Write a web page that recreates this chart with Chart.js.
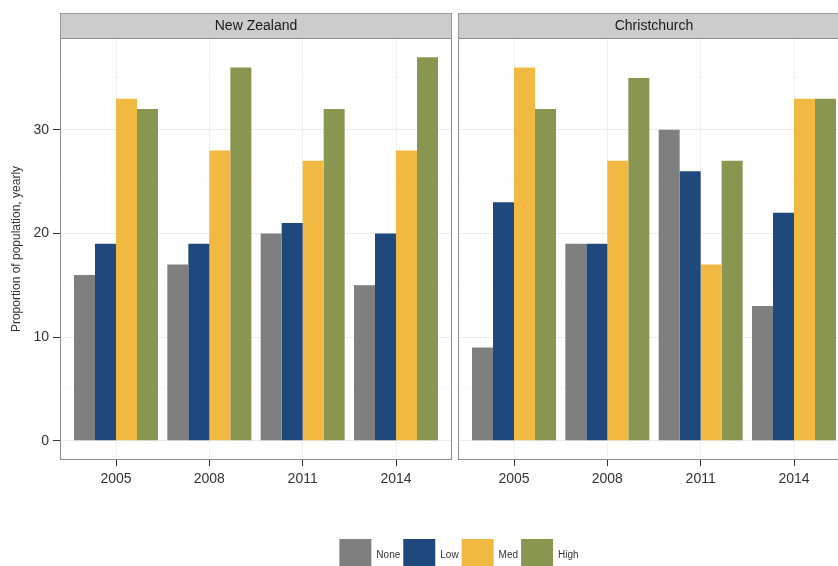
<!DOCTYPE html>
<html>
<head>
<meta charset="utf-8">
<script src="https://cdn.jsdelivr.net/npm/chart.js@4.4.1/dist/chart.umd.min.js"></script>
<style>
  html, body { margin: 0; padding: 0; background: #fff; width: 838px; height: 566px; overflow: hidden; }
  #nzWrap { position: absolute; left: 0; top: 0; }
  #chWrap { position: absolute; left: 0; top: 0; }
</style>
</head>
<body>
<div id="nzWrap"><canvas id="nz" width="455" height="500"></canvas></div>
<div id="chWrap"><canvas id="ch" width="858" height="581"></canvas></div>
<script>
/* ---- data ---- */
const years  = ['2005', '2008', '2011', '2014'];
const levels = ['None', 'Low', 'Med', 'High'];
const colors = ['#7f7f7f', '#1f497d', '#f1b942', '#88964f'];

const nzNone = [16, 17, 20, 15];
const nzLow  = [19, 19, 21, 20];
const nzMed  = [33, 28, 27, 28];
const nzHigh = [32, 36, 32, 37];

const chNone = [9, 19, 30, 13];
const chLow  = [23, 19, 26, 22];
const chMed  = [36, 27, 17, 33];
const chHigh = [32, 35, 27, 33];

const yTicks = [0, 5, 10, 15, 20, 25, 30, 35];
const yMin = -1.85, yMax = 38.85;

Chart.defaults.font.family = 'Arial, "Liberation Sans", sans-serif';
Chart.defaults.color = '#333';

// panel border + facet strip, drawn around the chart area
const panelPlugin = {
  id: 'panel',
  afterDraw(chart, args, opts) {
    const { ctx, chartArea: a } = chart;
    const stripTop = 13;
    ctx.save();
    ctx.fillStyle = '#cccccc';
    ctx.fillRect(a.left, stripTop, a.width, a.top - stripTop);
    ctx.strokeStyle = '#999999';
    ctx.lineWidth = 1;
    ctx.strokeRect(a.left + 0.5, stripTop + 0.5, a.width - 1, a.top - stripTop);
    ctx.strokeStyle = '#8c8c8c';
    ctx.strokeRect(a.left + 0.5, a.top + 0.5, a.width - 1, a.height - 1);
    ctx.fillStyle = '#1a1a1a';
    ctx.font = '14px Arial, "Liberation Sans", sans-serif';
    ctx.textAlign = 'center';
    ctx.textBaseline = 'middle';
    ctx.fillText(opts.title, (a.left + a.right) / 2, (stripTop + a.top) / 2 + 1);
    ctx.restore();
  }
};

// first = left facet (carries the y axis); the right facet carries the legend
function makePanel(id, title, series, first) {
  return new Chart(document.getElementById(id), {
    type: 'bar',
    data: {
      datasets: levels.map((lv, k) => ({
        label: lv,
        data: series[k].map((v, i) => ({ x: i + 1, y: v })),
        backgroundColor: colors[k],
        borderWidth: 0,
        categoryPercentage: 0.9,
        barPercentage: 1
      }))
    },
    options: {
      responsive: false,
      animation: false,
      layout: { padding: first ? { top: 38, right: 3, left: 0, bottom: 0 } : { top: 38, right: 8, left: 68, bottom: 0 } },
      plugins: {
        legend: {
          display: !first,
          position: 'bottom',
          labels: { boxWidth: 32, boxHeight: 32, padding: 3, font: { size: 10 }, color: '#333' }
        },
        tooltip: { enabled: false },
        panel: { title: title }
      },
      scales: {
        x: {
          type: 'linear', min: 0.4, max: 4.6, offset: false,
          afterBuildTicks: s => { s.ticks = years.map((_, i) => ({ value: i + 1 })); },
          afterFit: s => { s.height = first ? 40 : 76; },
          border: { display: false },
          grid: { offset: false, color: '#f0f0f0', tickColor: '#333', tickLength: 6 },
          ticks: { callback: v => years[v - 1], padding: 5, color: '#333', font: { size: 14 }, maxRotation: 0, autoSkip: false }
        },
        y: {
          min: yMin, max: yMax,
          afterBuildTicks: s => { s.ticks = yTicks.map(v => ({ value: v })); },
          afterFit: s => { s.width = first ? 60 : 390; },
          border: { display: false },
          grid: {
            color: c => (c.tick && c.tick.value % 10) ? '#f8f8f8' : '#ececec',
            tickColor: c => (c.tick && c.tick.value % 10) ? 'rgba(0,0,0,0)' : '#333',
            tickLength: 7,
            drawTicks: first
          },
          ticks: { display: first, callback: v => (v % 10 ? '' : v), padding: 4, color: '#333', font: { size: 14 } },
          title: { display: first, text: 'Proportion of population, yearly', padding: { top: 9 }, color: '#333', font: { size: 12 } }
        }
      }
    },
    plugins: [panelPlugin]
  });
}

makePanel('nz', 'New Zealand', [nzNone, nzLow, nzMed, nzHigh], true);
makePanel('ch', 'Christchurch', [chNone, chLow, chMed, chHigh], false);
</script>
</body>
</html>
